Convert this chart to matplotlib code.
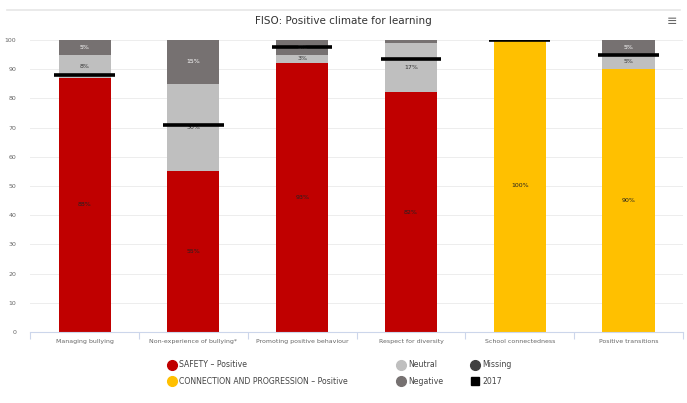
import numpy as np
import matplotlib.pyplot as plt
from matplotlib.lines import Line2D

categories = ['Managing bullying', 'Non-experience of bullying*', 'Promoting positive behaviour',
              'Respect for diversity', 'School connectedness', 'Positive transitions']
positive = [87, 55, 92, 82, 100, 90]
neutral = [8, 30, 3, 17, 0, 5]
negative = [5, 15, 5, 1, 0, 5]
pos_labels = ['88%', '55%', '93%', '82%', '100%', '90%']
neu_labels = ['8%', '30%', '3%', '17%', '', '5%']
neg_labels = ['5%', '15%', '5%', '', '', '5%']
group = ['SAFETY', 'SAFETY', 'SAFETY', 'SAFETY', 'CONNECTION', 'CONNECTION']
prev_2017 = [88, 71, 97.5, 93.5, 100, 95]

red = '#C00000'
yellow = '#FFC000'
c_neutral = '#BFBFBF'
c_negative = '#767171'
c_missing = '#404040'

fig = plt.figure(figsize=(6.87, 4.03), dpi=100)
ax = fig.add_axes([0.044, 0.176, 0.950, 0.725])

x = np.arange(len(categories))
w = 0.48
pos_colors = [red if g == 'SAFETY' else yellow for g in group]
neutral = np.array(neutral)
positive = np.array(positive)
ax.bar(x, positive, w, color=pos_colors, zorder=2)
ax.bar(x, neutral, w, bottom=positive, color=c_neutral, zorder=2)
ax.bar(x, negative, w, bottom=positive + neutral, color=c_negative, zorder=2)

for i in range(len(categories)):
    ax.text(x[i], positive[i] / 2, pos_labels[i], ha='center', va='center', fontsize=4.5, color='#222222', zorder=4)
    if neu_labels[i]:
        ax.text(x[i], positive[i] + neutral[i] / 2, neu_labels[i], ha='center', va='center', fontsize=4.5, color='#333333', zorder=4)
    if neg_labels[i]:
        ax.text(x[i], positive[i] + neutral[i] + negative[i] / 2, neg_labels[i], ha='center', va='center', fontsize=4.5, color='white', zorder=4)

ax.hlines(prev_2017, x - w * 0.58, x + w * 0.58, color='black', linewidth=2.6, zorder=5)

ax.set_xlim(-0.5, len(categories) - 0.5)
ax.set_ylim(0, 100)
ax.set_yticks(np.arange(0, 101, 10))
ax.yaxis.grid(True, color='#EDEDED', linewidth=0.7, zorder=0)
ax.set_axisbelow(True)
for s in ['top', 'right', 'left']:
    ax.spines[s].set_visible(False)
ax.spines['bottom'].set_color('#CCD6EB')
ax.spines['bottom'].set_linewidth(0.8)
ax.tick_params(axis='y', length=0, labelsize=4.5, labelcolor='#666666', pad=10)
ax.set_xticks(x)
ax.set_xticklabels(categories, fontsize=4.5, color='#666666')
ax.tick_params(axis='x', length=0, pad=5)
ax.set_xticks(np.arange(-0.5, len(categories), 1), minor=True)
ax.tick_params(axis='x', which='minor', length=5, color='#CCD6EB', width=0.8)

fig.text(0.5, 0.948, 'FISO: Positive climate for learning', ha='center', va='center', fontsize=7.5, color='#333333')
fig.add_artist(Line2D([0.01, 0.99], [0.975, 0.975], color='#E6E6E6', linewidth=1.2))
fig.text(0.978, 0.946, '\u2261', ha='center', va='center', fontsize=9, color='#666666')

def dot(c, m='o', s=7):
    return Line2D([], [], marker=m, linestyle='', color=c, markersize=s)

legend_cols = [
    ([dot(red), dot(yellow)], ['SAFETY \u2013 Positive', 'CONNECTION AND PROGRESSION \u2013 Positive'], 0.2445),
    ([dot(c_neutral), dot(c_negative)], ['Neutral', 'Negative'], 0.578),
    ([dot(c_missing), dot('black', 's', 6)], ['Missing', '2017'], 0.686),
]
for h, l, xa in legend_cols:
    leg = fig.legend(h, l, loc='upper left', bbox_to_anchor=(xa, 0.106), frameon=False,
                     fontsize=5.6, labelcolor='#444444', handletextpad=0.4, labelspacing=1.0,
                     handlelength=1.0, borderpad=0, borderaxespad=0)

plt.savefig('out.png', dpi=100)
